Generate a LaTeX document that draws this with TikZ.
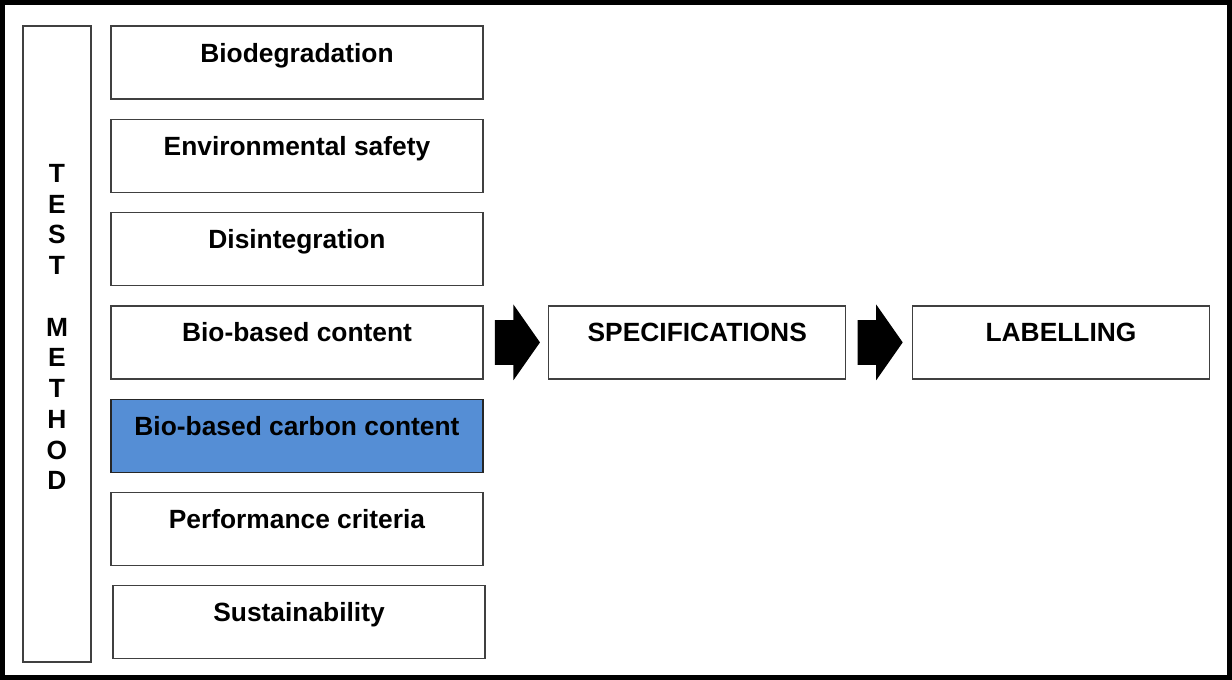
\documentclass[tikz,border=0pt]{standalone}
\usepackage{fontspec}
\setmainfont{Liberation Sans}
\usepackage{tikz}
\usetikzlibrary{calc,positioning,shapes.arrows}
\definecolor{FrameGrey}{HTML}{404040}
\definecolor{CarbonBlue}{HTML}{558ED5}

\begin{document}
\begin{tikzpicture}[x=0.02cm, y=-0.02cm, node distance=0.38cm,
    every node/.style={font=\fontsize{15}{17.5}\selectfont\bfseries},
    stdbox/.style={draw=FrameGrey, line width=0.75pt, minimum width=7.44cm, minimum height=1.46cm, text height=0.36cm, text depth=0.38cm, inner sep=0pt},
    blockarrow/.style={shape=single arrow, fill=black, inner xsep=0pt, inner ysep=0.44cm, single arrow head extend=0.31cm, single arrow tip angle=110, minimum height=0.9cm, anchor=west}]
    \useasboundingbox (0,0) rectangle (1232,680);
    \draw[line width=0.1cm] (2.5,2.5) rectangle (1229.5,677.5);

    % test method column
    \node[draw=FrameGrey, line width=0.75pt, minimum width=1.36cm, minimum height=12.72cm] (testm) at (57,344) {};
    \node[align=center] (testlbl) at ([yshift=0.34cm]testm.center) {T\\E\\S\\T\\[17.5pt]M\\E\\T\\H\\O\\D};

    \node[stdbox] (biodeg) at (297,62.5) {Biodegradation};
    \node[stdbox, below=of biodeg] (envsafe) {Environmental safety};
    \node[stdbox, below=of envsafe] (disint) {Disintegration};
    \node[stdbox, below=of disint] (biocont) {Bio-based content};
    \node[stdbox, below=of biocont, fill=CarbonBlue, draw=black!85] (biocarb) {Bio-based carbon content};
    \node[stdbox, below=of biocarb] (perf) {Performance criteria};
    \node[stdbox, below=of perf, xshift=0.04cm] (sustain) {Sustainability};

    % flow to the right
    \node[stdbox, minimum width=5.94cm, right=1.29cm of biocont] (spec) {SPECIFICATIONS};
    \node[stdbox, minimum width=5.94cm, right=1.31cm of spec] (label) {LABELLING};

    \node[blockarrow] (arr1) at ([xshift=0.22cm]biocont.east) {};
    \node[blockarrow] (arr2) at ([xshift=0.22cm]spec.east) {};
  \end{tikzpicture}
\end{document}
